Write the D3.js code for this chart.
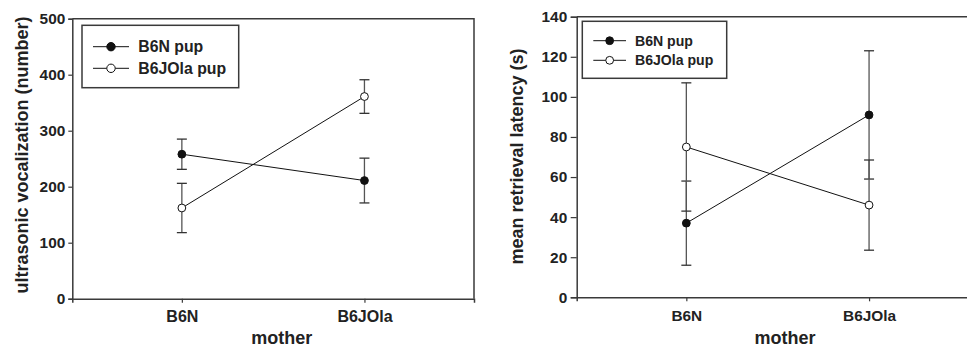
<!DOCTYPE html>
<html lang="en">
<head>
  <meta charset="UTF-8">
  <title>Pup vocalization and retrieval latency</title>
  <script src="https://d3js.org/d3.v7.min.js"></script>
  <style>
    body { margin: 0; background: #fff; }
    svg { display: block; font-family: "Liberation Sans", Arial, sans-serif; font-weight: bold; }
  </style>
</head>
<body>
  <div id="chart"></div>

  <script>
    // categories
    const mothers = ["B6N", "B6JOla"];
    const pups = ["B6N pup", "B6JOla pup"];

    // left panel: ultrasonic vocalization (number), mean and error
    const usvB6NPup = [258, 211];
    const usvB6NPupErr = [27, 40];
    const usvB6JOlaPup = [162, 361];
    const usvB6JOlaPupErr = [44, 30];
    const usvTicks = [0, 100, 200, 300, 400, 500];

    // right panel: mean retrieval latency (s)
    const latB6NPup = [37, 91];
    const latB6NPupErr = [21, 32];
    const latB6JOlaPup = [75, 46];
    const latB6JOlaPupErr = [32, 22.5];
    const latTicks = [0, 20, 40, 60, 80, 100, 120, 140];

    const width = 967;
    const height = 346;

    const svg = d3.select("#chart")
      .append("svg")
      .attr("width", width)
      .attr("height", height);

    const axisColor = "#3a3a3a";

    function drawPanel(p) {
      const g = svg.append("g");

      const x = d3.scalePoint()
        .domain(mothers)
        .range([p.left, p.right])
        .padding(0.6);

      const y = d3.scaleLinear()
        .domain([0, p.ticks[p.ticks.length - 1]])
        .range([p.bottom, p.top]);

      // frame (top and right)
      g.append("path")
        .attr("d", `M${p.left},${p.top}H${p.right}V${p.bottom}`)
        .attr("fill", "none")
        .attr("stroke", axisColor)
        .attr("stroke-width", 1.5);

      // y axis
      const yAxis = g.append("g")
        .attr("transform", `translate(${p.left},0)`)
        .call(d3.axisLeft(y).tickValues(p.ticks).tickSize(p.tickLen).tickPadding(p.tickPad));
      yAxis.select(".domain").attr("stroke", axisColor).attr("stroke-width", 1.5);
      yAxis.selectAll(".tick line").attr("stroke", axisColor).attr("stroke-width", 1.2);
      yAxis.selectAll(".tick text")
        .attr("fill", "#222")
        .style("font-size", "15.4px")
        .style("font-weight", "bold")
        .style("font-family", "'Liberation Sans', Arial, sans-serif");

      // x axis
      const xAxis = g.append("g")
        .attr("transform", `translate(0,${p.bottom})`)
        .call(d3.axisBottom(x).tickSize(4).tickPadding(8));
      xAxis.select(".domain").attr("stroke", axisColor).attr("stroke-width", 1.5);
      xAxis.selectAll(".tick line").attr("stroke", axisColor).attr("stroke-width", 1.2);
      xAxis.selectAll(".tick text")
        .attr("fill", "#222")
        .attr("dy", "0")
        .attr("y", 23.6)
        .style("font-size", p.xFont + "px")
        .style("font-weight", "bold")
        .style("font-family", "'Liberation Sans', Arial, sans-serif");

      // axis titles
      g.append("text")
        .attr("transform", `translate(${p.yTitleX},${p.yTitleY}) rotate(-90)`)
        .attr("text-anchor", "middle")
        .attr("fill", "#222")
        .style("font-size", "18px")
        .text(p.yTitle);

      g.append("text")
        .attr("x", p.xTitleX)
        .attr("y", 343.5)
        .attr("text-anchor", "middle")
        .attr("fill", "#222")
        .style("font-size", "18px")
        .text("mother");

      // series
      p.series.forEach(s => {
        const pts = mothers.map((m, i) => ({ m, v: s.values[i], e: s.errors[i] }));

        const eb = g.append("g");
        pts.forEach(d => {
          const cx = x(d.m);
          eb.append("line")
            .attr("x1", cx).attr("x2", cx)
            .attr("y1", y(d.v - d.e)).attr("y2", y(d.v + d.e))
            .attr("stroke", "#555").attr("stroke-width", 1.3);
          [d.v - d.e, d.v + d.e].forEach(c => {
            eb.append("line")
              .attr("x1", cx - 5).attr("x2", cx + 5)
              .attr("y1", y(c)).attr("y2", y(c))
              .attr("stroke", "#333").attr("stroke-width", 1.3);
          });
        });
        s.pts = pts;
      });

      p.series.forEach(s => {
        g.append("path")
          .datum(s.pts)
          .attr("fill", "none")
          .attr("stroke", "#111")
          .attr("stroke-width", 1)
          .attr("d", d3.line().x(d => x(d.m)).y(d => y(d.v)));
      });

      p.series.forEach(s => {
        g.selectAll(null)
          .data(s.pts)
          .enter().append("circle")
          .attr("cx", d => x(d.m))
          .attr("cy", d => y(d.v))
          .attr("r", 3.9)
          .attr("fill", s.filled ? "#111" : "#fff")
          .attr("stroke", "#111")
          .attr("stroke-width", 1);
      });

      // legend
      const lg = g.append("g");
      lg.append("rect")
        .attr("x", p.legend.x).attr("y", p.legend.y)
        .attr("width", p.legend.w).attr("height", p.legend.h)
        .attr("fill", "#fff")
        .attr("stroke", axisColor)
        .attr("stroke-width", 1.5);

      p.series.forEach((s, i) => {
        const ry = p.legend.rows[i];
        lg.append("line")
          .attr("x1", p.legend.lx1).attr("x2", p.legend.lx2)
          .attr("y1", ry).attr("y2", ry)
          .attr("stroke", "#111").attr("stroke-width", 1);
        lg.append("circle")
          .attr("cx", (p.legend.lx1 + p.legend.lx2) / 2)
          .attr("cy", ry)
          .attr("r", p.legend.r)
          .attr("fill", s.filled ? "#111" : "#fff")
          .attr("stroke", "#111");
        lg.append("text")
          .attr("x", p.legend.tx)
          .attr("y", ry)
          .attr("dy", "0.36em")
          .attr("fill", "#222")
          .style("font-size", p.legend.font + "px")
          .text(pups[i]);
      });
    }

    drawPanel({
      left: 72.3, right: 474, top: 18.7, bottom: 298.7,
      ticks: usvTicks, tickLen: 4, tickPad: 3, xFont: 16,
      yTitle: "ultrasonic vocalization (number)", yTitleX: 27.5, yTitleY: 155,
      xTitleX: 281.7,
      series: [
        { values: usvB6NPup, errors: usvB6NPupErr, filled: true },
        { values: usvB6JOlaPup, errors: usvB6JOlaPupErr, filled: false }
      ],
      legend: { x: 82, y: 25.3, w: 156.7, h: 62.4, rows: [46.7, 68.3], lx1: 93, lx2: 129, tx: 138.3, r: 4.2, font: 15.8 }
    });

    drawPanel({
      left: 576.7, right: 978.7, top: 16.7, bottom: 297.3,
      ticks: latTicks, tickLen: 6, tickPad: 3.5, xFont: 15.4,
      yTitle: "mean retrieval latency (s)", yTitleX: 523, yTitleY: 156.5,
      xTitleX: 785,
      series: [
        { values: latB6NPup, errors: latB6NPupErr, filled: true },
        { values: latB6JOlaPup, errors: latB6JOlaPupErr, filled: false }
      ],
      legend: { x: 582.3, y: 21.3, w: 144.4, h: 57, rows: [40.7, 60.3], lx1: 593.3, lx2: 626, tx: 635, r: 3.9, font: 14.1 }
    });
  </script>
</body>
</html>
